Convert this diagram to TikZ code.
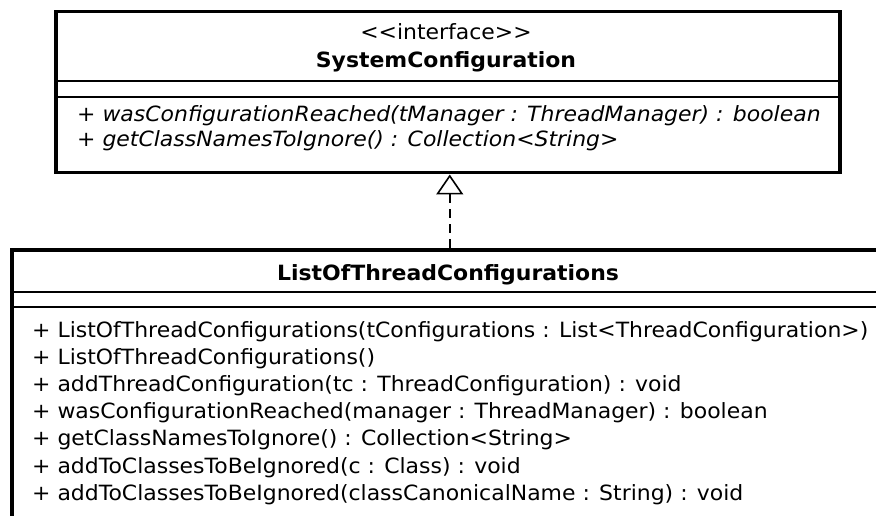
\documentclass[tikz,border=0pt]{standalone}
\usepackage{fontspec}
\setmainfont{DejaVu Sans}[FakeStretch=1.045]
\usetikzlibrary{arrows.meta}
\tikzset{
  classbox/.style={draw=black, line width=3.5pt, fill=white, inner sep=0pt, anchor=north west},
  sepline/.style={draw=black, line width=1.6pt},
  txt/.style={inner sep=0pt, anchor=base west, font=\fontsize{21}{24}\selectfont},
  ctxt/.style={inner sep=0pt, anchor=base, font=\fontsize{21}{24}\selectfont},
  realize/.style={draw=black, line width=1.6pt, dash pattern=on 9pt off 6pt,
    {Triangle[open, length=20pt, width=27pt, line width=1.6pt]}-},
}
\begin{document}
\begin{tikzpicture}[x=1pt,y=-1pt]
\useasboundingbox (0,0) rectangle (876,516);
\clip (0,0) rectangle (876,516);
\fill[white] (0,0) rectangle (876,516);
% interface box
\node[classbox, minimum width=784pt, minimum height=161pt] (iface) at (54,10) {};
\draw[sepline] (54,81) -- (838,81);
\draw[sepline] (54,97) -- (838,97);
\node[ctxt] (stereo) at (446,40) {<{}<interface>{}>};
\node[ctxt, font=\fontsize{21}{24}\selectfont\bfseries] (iname) at (446,68) {SystemConfiguration};
\node[txt, font=\fontsize{21}{24}\selectfont\itshape] (i1) at (77,122) {+ wasConfigurationReached(tManager : ThreadManager) : boolean};
\node[txt, font=\fontsize{21}{24}\selectfont\itshape] (i2) at (77,147) {+ getClassNamesToIgnore() : Collection<String>};
% class box
\node[classbox, minimum width=876pt, minimum height=300pt] (impl) at (10,248) {};
\draw[sepline] (10,292) -- (886,292);
\draw[sepline] (10,307) -- (886,307);
\node[ctxt, font=\fontsize{21}{24}\selectfont\bfseries] (cname) at (448,280) {ListOfThreadConfigurations};
\node[txt] (m1) at (32,337.0) {+ ListOfThreadConfigurations(tConfigurations : List<ThreadConfiguration>)};
\node[txt] (m2) at (32,364.2) {+ ListOfThreadConfigurations()};
\node[txt] (m3) at (32,391.4) {+ addThreadConfiguration(tc : ThreadConfiguration) : void};
\node[txt] (m4) at (32,418.6) {+ wasConfigurationReached(manager : ThreadManager) : boolean};
\node[txt] (m5) at (32,445.8) {+ getClassNamesToIgnore() : Collection<String>};
\node[txt] (m6) at (32,473.0) {+ addToClassesToBeIgnored(c : Class) : void};
\node[txt] (m7) at (32,500.2) {+ addToClassesToBeIgnored(classCanonicalName : String) : void};
% realization
\draw[realize] ([xshift=2pt]iface.south) -- ([xshift=2pt]iface.south |- impl.north);
\end{tikzpicture}
\end{document}
